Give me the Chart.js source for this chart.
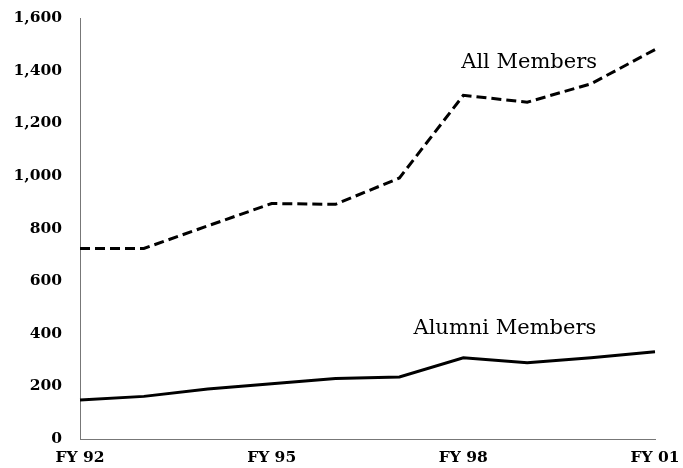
<!DOCTYPE html>
<html lang="en">
<head>
    <meta charset="UTF-8">
    <script src="https://cdn.jsdelivr.net/npm/chart.js"></script>
    <title>Members</title>
    <style>
        body { margin: 0; background: #fff; }
    </style>
</head>
<body>
    <canvas id="myChart" width="683" height="468"></canvas>
    <script>
        const years = ['FY 92', 'FY 93', 'FY 94', 'FY 95', 'FY 96', 'FY 97', 'FY 98', 'FY 99', 'FY 00', 'FY 01'];
        const allMembers = [724, 724, 810, 895, 892, 992, 1306, 1280, 1350, 1480];
        const alumniMembers = [148, 162, 190, 210, 230, 236, 309, 290, 309, 332];
        const shownYears = ['FY 92', 'FY 95', 'FY 98', 'FY 01'];

        // series names written next to the lines (x = category index, y = value)
        const seriesLabels = [
            { text: 'All Members', x: 7.03, y: 1410 },
            { text: 'Alumni Members', x: 6.65, y: 398 }
        ];

        const lineLabels = {
            id: 'lineLabels',
            afterDatasetsDraw(chart) {
                const ctx = chart.ctx;
                const xs = chart.scales.x, ys = chart.scales.y;
                ctx.save();
                ctx.fillStyle = '#000';
                ctx.font = '21px "DejaVu Serif"';
                ctx.textAlign = 'center';
                ctx.textBaseline = 'alphabetic';
                seriesLabels.forEach(l => {
                    ctx.fillText(l.text, xs.getPixelForValue(l.x), ys.getPixelForValue(l.y));
                });
                ctx.restore();
            }
        };

        const tickFont = { family: '"DejaVu Serif"', size: 15.5, weight: 'bold' };

        new Chart(document.getElementById('myChart'), {
            type: 'line',
            data: {
                labels: years,
                datasets: [{
                    label: 'All Members',
                    data: allMembers,
                    borderColor: '#000',
                    borderWidth: 3,
                    borderDash: [10, 5],
                    pointRadius: 0,
                    tension: 0
                }, {
                    label: 'Alumni Members',
                    data: alumniMembers,
                    borderColor: '#000',
                    borderWidth: 3,
                    pointRadius: 0,
                    tension: 0
                }]
            },
            options: {
                responsive: false,
                animation: false,
                layout: { padding: { top: 18, right: 28, left: 0, bottom: 0 } },
                plugins: {
                    legend: { display: false },
                    tooltip: { enabled: false }
                },
                scales: {
                    x: {
                        grid: { display: false, drawTicks: false },
                        border: { display: true, color: '#777', width: 1 },
                        afterFit: (s) => {
                            s.height = 29;
                            s.paddingLeft = 0;
                            s.paddingRight = 0;
                        },
                        ticks: {
                            color: '#000',
                            font: tickFont,
                            padding: 10,
                            autoSkip: false,
                            maxRotation: 0,
                            callback: function (v, i) {
                                const lab = years[i];
                                return shownYears.includes(lab) ? lab : '';
                            }
                        }
                    },
                    y: {
                        min: 0,
                        max: 1600,
                        grid: { display: false, drawTicks: false },
                        border: { display: true, color: '#777', width: 1 },
                        afterFit: (s) => {
                            s.width = 80;
                            s.paddingTop = 0;
                            s.paddingBottom = 0;
                        },
                        ticks: {
                            color: '#000',
                            font: tickFont,
                            padding: 18,
                            stepSize: 200
                        }
                    }
                }
            },
            plugins: [lineLabels]
        });
    </script>
</body>
</html>
